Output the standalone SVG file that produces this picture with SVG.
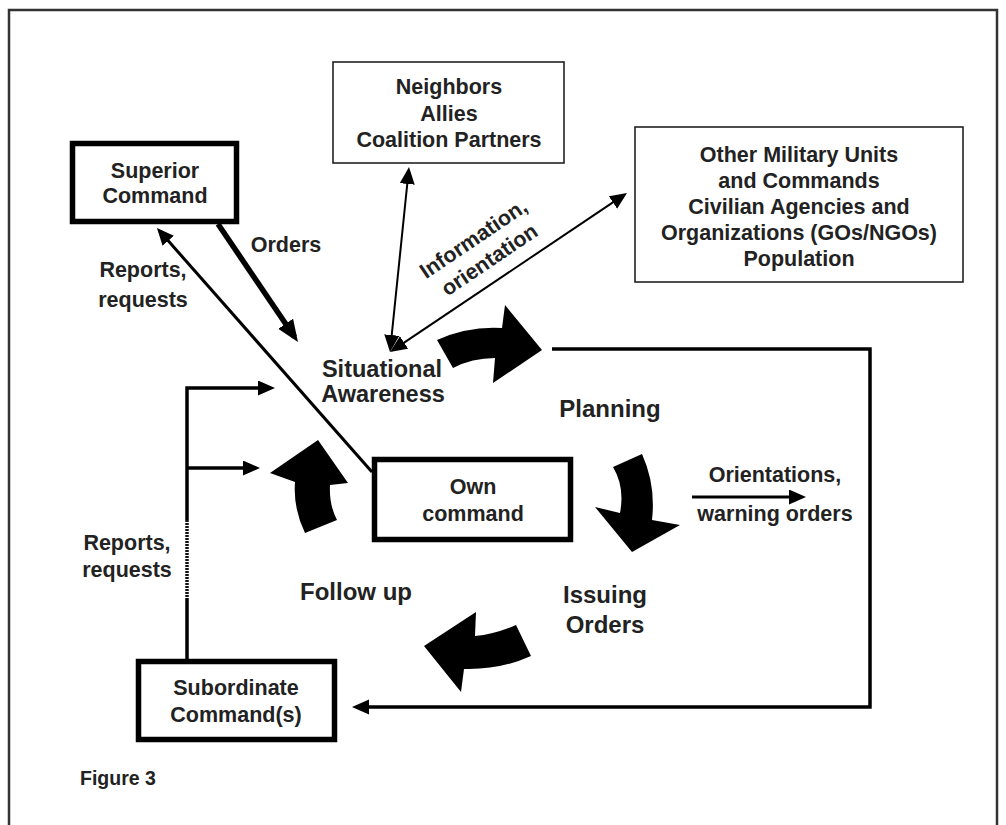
<svg xmlns="http://www.w3.org/2000/svg" width="1006" height="825" viewBox="0 0 1006 825">
<style>
text{font-family:"Liberation Sans",Arial,sans-serif;font-weight:bold;fill:#222;text-anchor:middle}
.s{font-size:21.5px}
.p{font-size:24px}
.thick{fill:#fff;stroke:#000;stroke-width:5.5}
.thin{fill:#fff;stroke:#222;stroke-width:1.6}
.ln{fill:none;stroke:#000;stroke-width:3}
.ln2{fill:none;stroke:#000;stroke-width:2}
.big{fill:#000}
</style>
<defs>
<marker id="a1" markerUnits="userSpaceOnUse" markerWidth="18" markerHeight="16" refX="13" refY="7.5" orient="auto-start-reverse"><path d="M0,0 L17,7.5 L0,15 Z" fill="#000"/></marker>
<marker id="a2" markerUnits="userSpaceOnUse" markerWidth="24" markerHeight="20" refX="16" refY="9" orient="auto"><path d="M0,0 L22,9 L0,18 Z" fill="#000"/></marker>
</defs>
<rect x="9" y="10" width="988" height="840" fill="#fff" stroke="#333" stroke-width="2.5"/>

<g id="connectors">
<line class="ln" x1="218" y1="224" x2="294.6" y2="337" style="stroke-width:5.5" marker-end="url(#a2)"/>
<line class="ln" x1="372" y1="472" x2="159.6" y2="231" marker-end="url(#a1)"/>
<line class="ln2" x1="390.4" y1="348" x2="408.6" y2="171" marker-start="url(#a1)" marker-end="url(#a1)"/>
<line class="ln2" x1="393.3" y1="349.8" x2="623.7" y2="195.2" marker-start="url(#a1)" marker-end="url(#a1)"/>
<polyline class="ln" points="552,349 870,349 870,707 356,707" style="stroke-width:3.5" marker-end="url(#a1)"/>
<line class="ln" x1="692" y1="497" x2="802" y2="497" marker-end="url(#a1)"/>
<polyline class="ln" points="187,520 187,388 271,388" style="stroke-width:3.5" marker-end="url(#a1)"/>
<polyline class="ln" points="187,468 256,468" style="stroke-width:3.5" marker-end="url(#a1)"/>
<line class="ln" x1="187" y1="520" x2="187" y2="598" style="stroke-dasharray:2 1;stroke-width:3.5;stroke:#111"/>
<line class="ln" x1="187" y1="598" x2="187" y2="659" style="stroke-width:3.5"/>
<text class="s" x="286" y="252">Orders</text>
<text class="s" x="143" y="277">Reports,</text>
<text class="s" x="143" y="307">requests</text>
<text class="s" x="127" y="550">Reports,</text>
<text class="s" x="127" y="577">requests</text>
<text class="s" x="473" y="246" transform="rotate(-34 473 238)">Information,</text>
<text class="s" x="489" y="267" transform="rotate(-34 489 259)">orientation</text>
<text class="s" x="775" y="482">Orientations,</text>
<text class="s" x="775" y="521">warning orders</text>
</g>

<g id="cycle">
<path class="big" d="M437,340 Q468,326 502,328 L505,305 L542,350 L493,383 L495,358 Q472,358 453,368 Z"/>
<path class="big" d="M613,467 L642,454 Q656,485 652,520 L680,525 L632,552 L595,507 L620,513 Q625,487 613,467 Z"/>
<path class="big" d="M476,612 L475,636 Q495,634 516,625 L531,656 Q500,670 464,669 L461,692 L424,646 Z"/>
<path class="big" d="M270,473 L318,440 L348,483 L330,485 Q329,505 337,520 L305,533 Q293,508 295,482 Z"/>
<text class="p" x="382" y="377" style="font-size:23.5px">Situational</text>
<text class="p" x="383" y="402" style="font-size:23.5px">Awareness</text>
<text class="p" x="610" y="417">Planning</text>
<text class="p" x="605" y="603">Issuing</text>
<text class="p" x="605" y="633">Orders</text>
<text class="p" x="356" y="600">Follow up</text>
</g>

<g id="superior">
<rect class="thick" x="72.5" y="143.5" width="164" height="78"/>
<text class="s" x="155" y="178">Superior</text>
<text class="s" x="155" y="203">Command</text>
</g>

<g id="neighbors">
<rect class="thin" x="333" y="62" width="231" height="101"/>
<text class="s" x="449" y="94">Neighbors</text>
<text class="s" x="449" y="121">Allies</text>
<text class="s" x="449" y="147">Coalition Partners</text>
</g>

<g id="other">
<rect class="thin" x="635" y="127" width="328" height="155"/>
<text class="s" x="799" y="162">Other Military Units</text>
<text class="s" x="799" y="188">and Commands</text>
<text class="s" x="799" y="214">Civilian Agencies and</text>
<text class="s" x="799" y="240">Organizations (GOs/NGOs)</text>
<text class="s" x="799" y="266">Population</text>
</g>

<g id="own">
<rect class="thick" x="374.5" y="459.5" width="196" height="80"/>
<text class="s" x="473" y="494">Own</text>
<text class="s" x="473" y="521">command</text>
</g>

<g id="subordinate">
<rect class="thick" x="138.5" y="661.5" width="196" height="78"/>
<text class="s" x="236" y="695">Subordinate</text>
<text class="s" x="236" y="722">Command(s)</text>
</g>

<text class="s" x="80" y="785" style="text-anchor:start;font-size:19.5px">Figure 3</text>
</svg>
